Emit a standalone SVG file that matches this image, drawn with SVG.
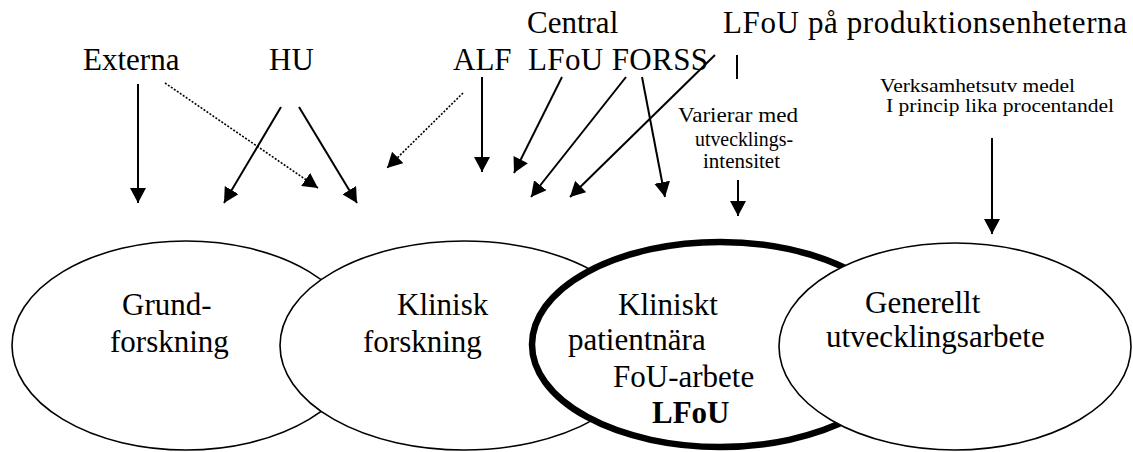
<svg xmlns="http://www.w3.org/2000/svg" width="1133" height="452" viewBox="0 0 1133 452">
  <style>
    .big { font-family: "Liberation Serif", "Times New Roman", serif; font-size: 31px; fill: #000; }
    .mid { font-family: "Liberation Serif", "Times New Roman", serif; font-size: 21.5px; fill: #000; }
    .small { font-family: "Liberation Serif", "Times New Roman", serif; font-size: 18px; fill: #000; }
    .bold { font-weight: bold; }
    .area { fill: #fff; stroke: #000; stroke-width: 1.6; }
    .focus { fill: #fff; stroke: #000; stroke-width: 6.5; }
    .flow { stroke: #000; stroke-width: 2; fill: none; }
    .dotted { stroke: #000; stroke-width: 1.6; stroke-dasharray: 2 1.6; fill: none; }
  </style>
  <defs>
    <marker id="head" markerUnits="userSpaceOnUse" viewBox="0 0 15 16" markerWidth="15" markerHeight="16" refX="15" refY="8" orient="auto">
      <path d="M0,0 L15,8 L0,16 z" fill="#000" stroke="none"/>
    </marker>
  </defs>
  <rect width="1133" height="452" fill="#fff"/>

  <!-- funding sources -->
  <g id="sources">
    <text class="big" x="527" y="33">Central</text>
    <text class="big" x="723" y="33" textLength="404" lengthAdjust="spacing">LFoU på produktionsenheterna</text>
    <text class="big" x="83" y="70">Externa</text>
    <text class="big" x="269" y="70">HU</text>
    <text class="big" x="453" y="70">ALF</text>
    <text class="big" x="528" y="70" textLength="180" lengthAdjust="spacing">LFoU FORSS</text>
  </g>

  <g id="note-varierar">
    <text class="mid" x="678" y="122" textLength="120" lengthAdjust="spacingAndGlyphs">Varierar med</text>
    <text class="mid" x="695" y="146" textLength="98" lengthAdjust="spacingAndGlyphs">utvecklings-</text>
    <text class="mid" x="703" y="168" textLength="77" lengthAdjust="spacingAndGlyphs">intensitet</text>
  </g>

  <g id="note-verksamhet">
    <text class="small" x="880" y="92" textLength="195" lengthAdjust="spacingAndGlyphs">Verksamhetsutv medel</text>
    <text class="small" x="886" y="112" textLength="228" lengthAdjust="spacingAndGlyphs">I princip lika procentandel</text>
  </g>

  <!-- activity areas, drawn left to right so each overlaps the previous -->
  <g id="grundforskning">
    <ellipse class="area" cx="186" cy="345.5" rx="174" ry="104.5"/>
  </g>
  <g id="klinisk-forskning">
    <ellipse class="area" cx="464" cy="345.5" rx="184" ry="104.5"/>
  </g>
  <g id="patientnara-fou">
    <ellipse class="focus" cx="720" cy="344.5" rx="188" ry="102.5"/>
  </g>
  <g id="utvecklingsarbete">
    <ellipse class="area" cx="955" cy="346.5" rx="176" ry="103.5"/>
  </g>

  <g id="area-labels">
    <text class="big" x="122" y="315">Grund-</text>
    <text class="big" x="110" y="352">forskning</text>
    <text class="big" x="397" y="315">Klinisk</text>
    <text class="big" x="363" y="352">forskning</text>
    <text class="big" x="618" y="315">Kliniskt</text>
    <text class="big" x="568" y="350">patientnära</text>
    <text class="big" x="613" y="387">FoU-arbete</text>
    <text class="big bold" x="652" y="423">LFoU</text>
    <text class="big" x="865" y="313">Generellt</text>
    <text class="big" x="826" y="347">utvecklingsarbete</text>
  </g>

  <!-- connectors -->
  <g id="connectors">
    <line class="flow" x1="138" y1="84" x2="138" y2="203" marker-end="url(#head)"/>
    <line class="dotted" x1="165" y1="83" x2="318" y2="188" marker-end="url(#head)"/>
    <line class="flow" x1="281" y1="107" x2="224" y2="203" marker-end="url(#head)"/>
    <line class="flow" x1="299" y1="107" x2="357" y2="203" marker-end="url(#head)"/>
    <line class="dotted" x1="463" y1="93" x2="387" y2="168" marker-end="url(#head)"/>
    <line class="flow" x1="482" y1="77" x2="482" y2="172" marker-end="url(#head)"/>
    <line class="flow" x1="562" y1="77" x2="514" y2="173" marker-end="url(#head)"/>
    <line class="flow" x1="626" y1="77" x2="531" y2="197" marker-end="url(#head)"/>
    <line class="flow" x1="715" y1="55" x2="570" y2="197" marker-end="url(#head)"/>
    <line class="flow" x1="642" y1="77" x2="665" y2="197" marker-end="url(#head)"/>
    <line class="flow" x1="737" y1="55" x2="737" y2="79"/>
    <line class="flow" x1="738" y1="180" x2="738" y2="216" marker-end="url(#head)"/>
    <line class="flow" x1="992" y1="138" x2="992" y2="234" marker-end="url(#head)"/>
  </g>
</svg>
